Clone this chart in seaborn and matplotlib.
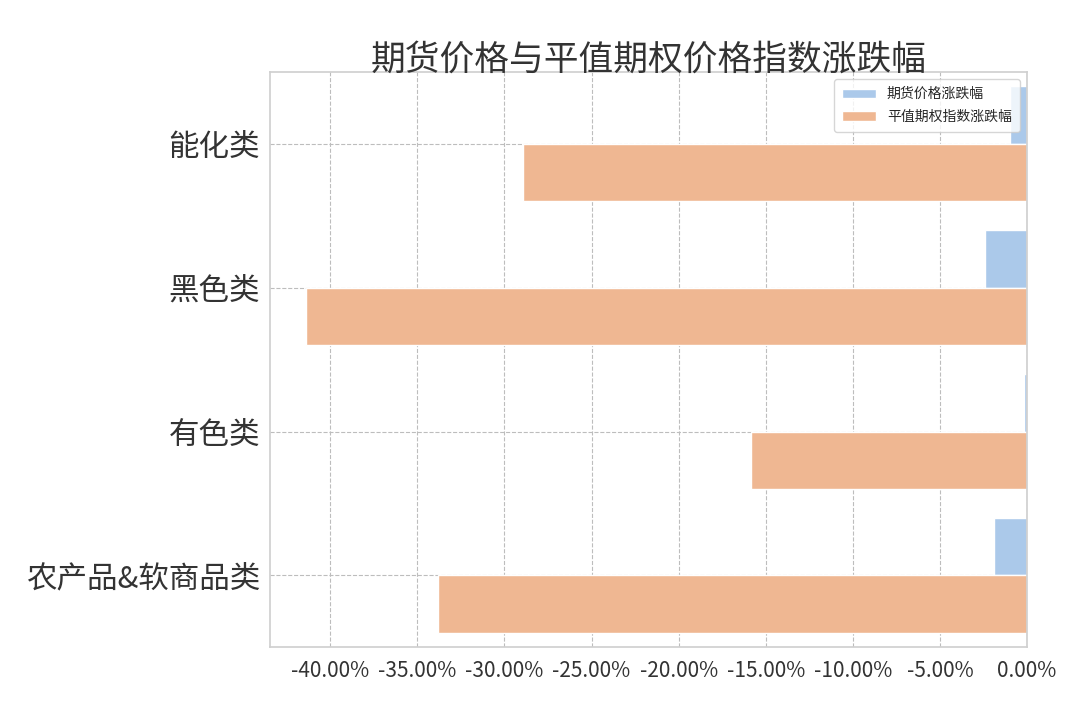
import matplotlib
matplotlib.use("Agg")
import matplotlib.pyplot as plt
import matplotlib.ticker as mtick
import seaborn as sns
import pandas as pd

categories = ["能化类", "黑色类", "有色类", "农产品&软商品类"]
series_names = ["期货价格涨跌幅", "平值期权指数涨跌幅"]
futures_change = [-0.0098, -0.0241, -0.0020, -0.0189]
option_index_change = [-0.2893, -0.4139, -0.1584, -0.3381]

df = pd.DataFrame({
    "类别": categories * 2,
    "涨跌幅": futures_change + option_index_change,
    "系列": [series_names[0]] * len(categories) + [series_names[1]] * len(categories),
})

sns.set_theme(style="whitegrid", palette="pastel",
              rc={"grid.linestyle": "--", "grid.color": "#bdbdbd", "grid.linewidth": 0.8,
                  "axes.edgecolor": "#d0d0d0"})
plt.rcParams["font.family"] = ["Noto Sans CJK SC", "DejaVu Sans"]
plt.rcParams["axes.unicode_minus"] = False

fig = plt.figure(figsize=(10.8, 7.2), dpi=100)
ax = fig.add_axes([0.25, 0.101, 0.701, 0.799])
sns.barplot(data=df, y="类别", x="涨跌幅", hue="系列", orient="h", ax=ax)
ax.yaxis.grid(True)
ax.set_axisbelow(True)

ax.xaxis.set_major_formatter(mtick.PercentFormatter(1.0, decimals=2))
ax.set_xlabel("")
ax.set_ylabel("")
ax.tick_params(axis="y", labelsize=22, colors="#333333", pad=1)
ax.tick_params(axis="x", labelsize=15, colors="#333333")
ax.set_title("期货价格与平值期权价格指数涨跌幅", fontsize=25, color="#333333", pad=2)
ax.legend(loc="upper right", fontsize=10, title=None, labelspacing=0.6,
          handlelength=2.4, borderpad=0.6)
fig.savefig("out.png", dpi=100)
